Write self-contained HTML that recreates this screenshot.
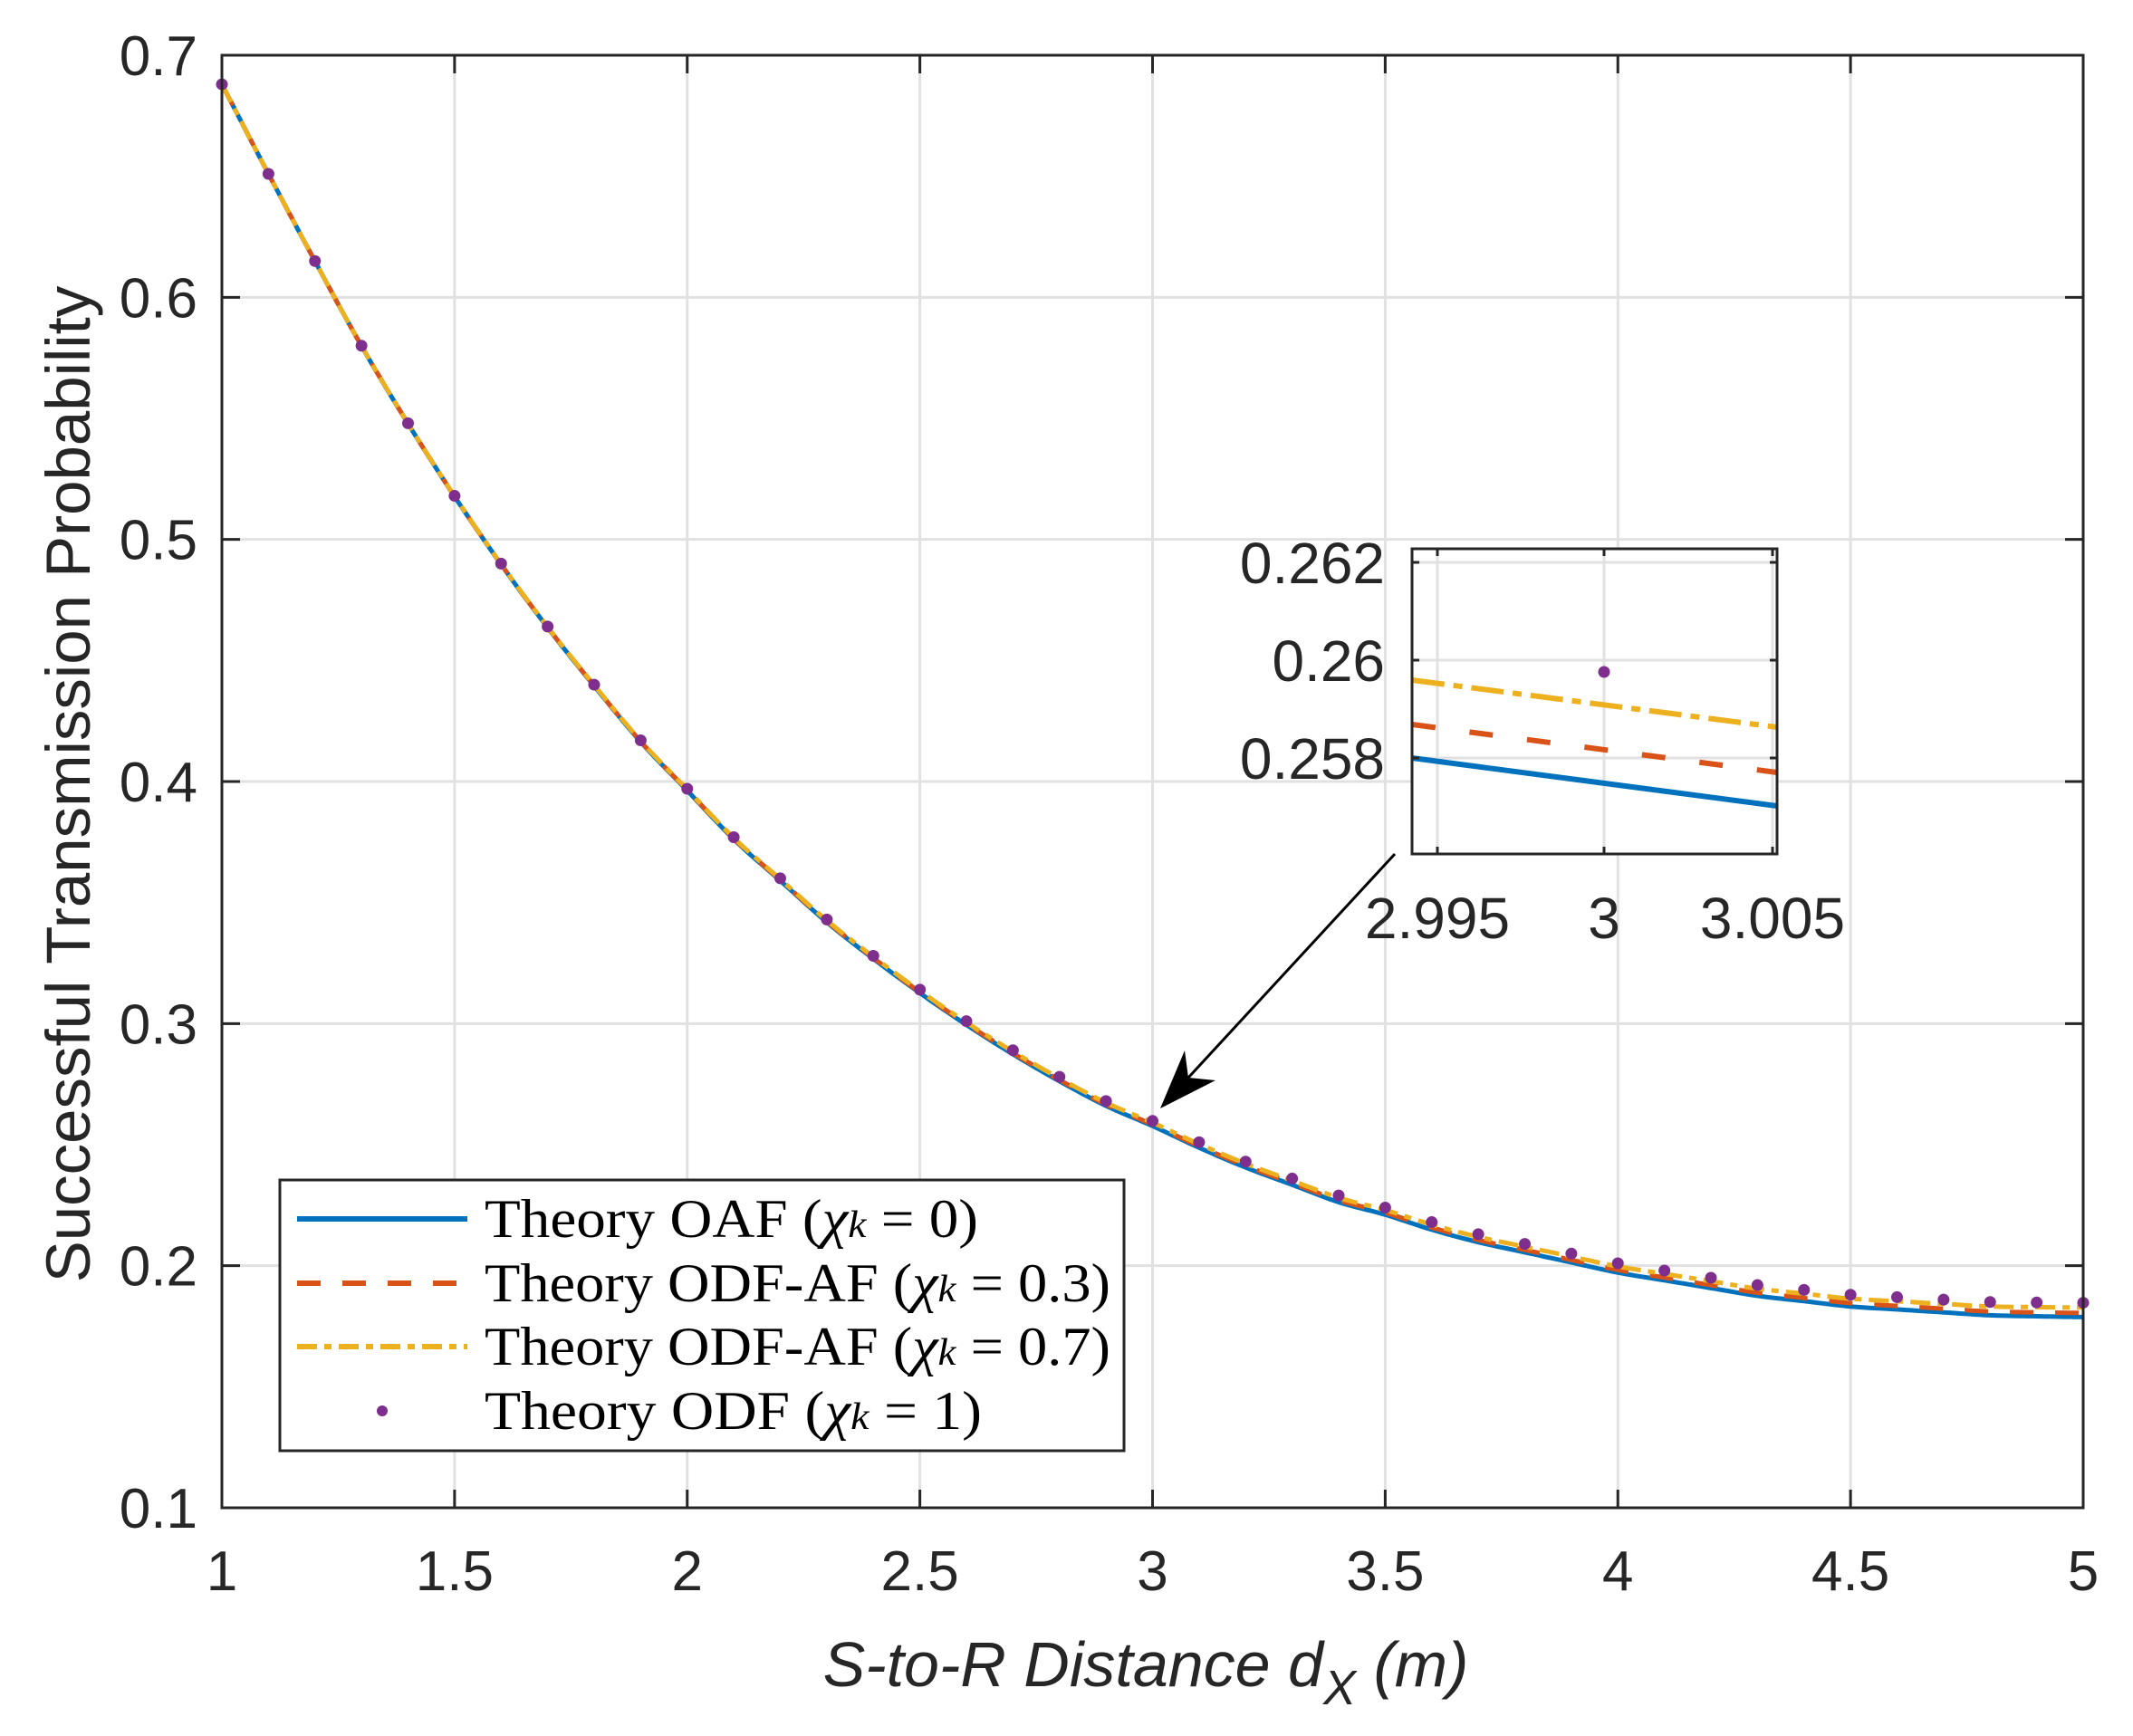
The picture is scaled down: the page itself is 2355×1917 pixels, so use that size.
<!DOCTYPE html>
<html><head><meta charset="utf-8"><style>
html,body{margin:0;padding:0;background:#fff}
svg{display:block}
.t{font-family:"Liberation Sans",sans-serif;fill:#262626}
.s{font-family:"Liberation Serif",serif;fill:#000}
</style></head><body>
<svg id="c" width="2355" height="1917" viewBox="0 0 2355 1917" xmlns="http://www.w3.org/2000/svg">
<rect width="2355" height="1917" fill="#fff"/>
<g id="grid" stroke="#e1e1e1" stroke-width="3"></g>
<g id="series"></g>
<g id="axes"></g>
<!-- legend -->
<rect x="309" y="1303" width="932" height="299" fill="#fff" stroke="#262626" stroke-width="3"/>
<line x1="328" y1="1346" x2="516" y2="1346" stroke="#0072BD" stroke-width="6"/>
<line x1="328" y1="1417" x2="516" y2="1417" stroke="#D95319" stroke-width="6" stroke-dasharray="26,24"/>
<line x1="328" y1="1487" x2="516" y2="1487" stroke="#EDB120" stroke-width="6" stroke-dasharray="22,8,8,8"/>
<circle cx="422" cy="1558" r="6" fill="#7E2F8E"/>
<g class="s" font-size="60">
<text x="535" y="1366" textLength="545" lengthAdjust="spacingAndGlyphs">Theory OAF (<tspan font-style="italic">χ</tspan><tspan font-style="italic" font-size="42">k</tspan> = 0)</text>
<text x="535" y="1437" textLength="691" lengthAdjust="spacingAndGlyphs">Theory ODF-AF (<tspan font-style="italic">χ</tspan><tspan font-style="italic" font-size="42">k</tspan> = 0.3)</text>
<text x="535" y="1507" textLength="691" lengthAdjust="spacingAndGlyphs">Theory ODF-AF (<tspan font-style="italic">χ</tspan><tspan font-style="italic" font-size="42">k</tspan> = 0.7)</text>
<text x="535" y="1578" textLength="549" lengthAdjust="spacingAndGlyphs">Theory ODF (<tspan font-style="italic">χ</tspan><tspan font-style="italic" font-size="42">k</tspan> = 1)</text>
</g>
<!-- inset -->
<g id="inset"></g>
<!-- arrow -->
<line x1="1540" y1="943" x2="1312" y2="1190" stroke="#000" stroke-width="3"/>
<polygon points="1281,1224 1308,1160 1312,1190 1342,1193" fill="#000"/>
<!-- labels -->
<text class="t" x="1265" y="1862" font-size="70" font-style="italic" text-anchor="middle">S-to-R Distance d<tspan font-size="54" dy="20">X</tspan><tspan dy="-20"> (m)</tspan></text>
<text class="t" font-size="69" text-anchor="middle" transform="translate(99,866) rotate(-90)">Successful Transmission Probability</text>
</svg>
<script>
const NS="http://www.w3.org/2000/svg";
function el(p,tag,a,txt){const e=document.createElementNS(NS,tag);for(const k in a)e.setAttribute(k,a[k]);if(txt!==undefined)e.textContent=txt;p.appendChild(e);return e;}
const L=245,R=2300,T=61,B=1665;
const X=x=>L+(x-1)/4*(R-L), Y=y=>B-(y-0.1)/0.6*(B-T);
const grid=document.getElementById('grid'),axes=document.getElementById('axes'),ser=document.getElementById('series');
for(let i=1;i<8;i++){const x=X(1+i*0.5);el(grid,'line',{x1:x,y1:T,x2:x,y2:B});}
for(let i=1;i<6;i++){const y=Y(0.1+i*0.1);el(grid,'line',{x1:L,y1:y,x2:R,y2:y});}
const dv=[0.688,0.651,0.615,0.580,0.548,0.518,0.490,0.464,0.440,0.417,0.397,0.377,0.360,0.343,0.328,0.314,0.301,0.289,0.278,0.268,0.2598,0.251,0.243,0.236,0.229,0.224,0.218,0.213,0.209,0.205,0.201,0.198,0.195,0.192,0.190,0.188,0.187,0.186,0.185,0.1848,0.1847];
function dot(x){const t=(x-1)/0.1;let i=Math.min(Math.floor(t),39);if(i<0)i=0;const f=t-i;
 const p1=dv[i],p2=dv[i+1],p0=i>0?dv[i-1]:2*p1-p2,p3=i<39?dv[i+2]:2*p2-p1;
 return p1+0.5*f*(p2-p0+f*(2*p0-5*p1+4*p2-p3+f*(3*(p1-p2)+p3-p0)));}
function val(x,chi){const d=0.00074*Math.pow(x-1,1.5);return dot(x)-d*(1-chi*0.95);}
function path(chi){let s='';for(let i=0;i<=400;i++){const x=1+i*0.01;s+=(i?'L':'M')+X(x).toFixed(1)+','+Y(val(x,chi)).toFixed(1);}return s;}
el(ser,'path',{d:path(0),fill:'none',stroke:'#0072BD','stroke-width':5});
el(ser,'path',{d:path(0.3),fill:'none',stroke:'#D95319','stroke-width':5,'stroke-dasharray':'26,24'});
el(ser,'path',{d:path(0.7),fill:'none',stroke:'#EDB120','stroke-width':5,'stroke-dasharray':'22,8,8,8'});
for(let i=0;i<=40;i++){el(ser,'circle',{cx:X(1+i*0.1),cy:Y(dv[i]),r:6.5,fill:'#7E2F8E'});}
el(axes,'rect',{x:L,y:T,width:R-L,height:B-T,fill:'none',stroke:'#262626','stroke-width':3});
for(let i=0;i<=8;i++){const x=X(1+i*0.5);el(axes,'line',{x1:x,y1:B,x2:x,y2:B-20,stroke:'#262626','stroke-width':3});el(axes,'line',{x1:x,y1:T,x2:x,y2:T+20,stroke:'#262626','stroke-width':3});
 el(axes,'text',{x:x,y:1756,'font-size':62,'text-anchor':'middle',class:'t'},String(+(1+i*0.5).toFixed(1)));}
for(let i=0;i<=6;i++){const y=Y(0.1+i*0.1);el(axes,'line',{x1:L,y1:y,x2:L+20,y2:y,stroke:'#262626','stroke-width':3});el(axes,'line',{x1:R,y1:y,x2:R-20,y2:y,stroke:'#262626','stroke-width':3});
 el(axes,'text',{x:218,y:y+22,'font-size':62,'text-anchor':'end',class:'t'},(0.1+i*0.1).toFixed(1));}
// inset
const ins=document.getElementById('inset');
const IL=1559,IR=1962,IT=606,IB=943;
el(ins,'rect',{x:IL,y:IT,width:IR-IL,height:IB-IT,fill:'#fff'});
const ix=[1587,1771,1957],iy=[621,729,837];
ix.forEach(x=>el(ins,'line',{x1:x,y1:IT,x2:x,y2:IB,stroke:'#e1e1e1','stroke-width':3}));
iy.forEach(y=>el(ins,'line',{x1:IL,y1:y,x2:IR,y2:y,stroke:'#e1e1e1','stroke-width':3}));
el(ins,'line',{x1:IL,y1:837,x2:IR,y2:890,stroke:'#0072BD','stroke-width':6});
el(ins,'line',{x1:IL,y1:800,x2:IR,y2:853,stroke:'#D95319','stroke-width':6,'stroke-dasharray':'26,38'});
el(ins,'line',{x1:IL,y1:751,x2:IR,y2:803,stroke:'#EDB120','stroke-width':6,'stroke-dasharray':'36,10,10,10'});
el(ins,'circle',{cx:1771,cy:742,r:6.5,fill:'#7E2F8E'});
el(ins,'rect',{x:IL,y:IT,width:IR-IL,height:IB-IT,fill:'none',stroke:'#262626','stroke-width':3});
ix.forEach(x=>{el(ins,'line',{x1:x,y1:IB,x2:x,y2:IB-8,stroke:'#262626','stroke-width':3});el(ins,'line',{x1:x,y1:IT,x2:x,y2:IT+8,stroke:'#262626','stroke-width':3});});
iy.forEach(y=>{el(ins,'line',{x1:IL,y1:y,x2:IL+8,y2:y,stroke:'#262626','stroke-width':3});el(ins,'line',{x1:IR,y1:y,x2:IR-8,y2:y,stroke:'#262626','stroke-width':3});});
['2.995','3','3.005'].forEach((t,i)=>el(ins,'text',{x:ix[i],y:1036,'font-size':64,'text-anchor':'middle',class:'t'},t));
['0.262','0.26','0.258'].forEach((t,i)=>el(ins,'text',{x:1529,y:iy[i]+23,'font-size':64,'text-anchor':'end',class:'t'},t));
</script>
</body></html>
